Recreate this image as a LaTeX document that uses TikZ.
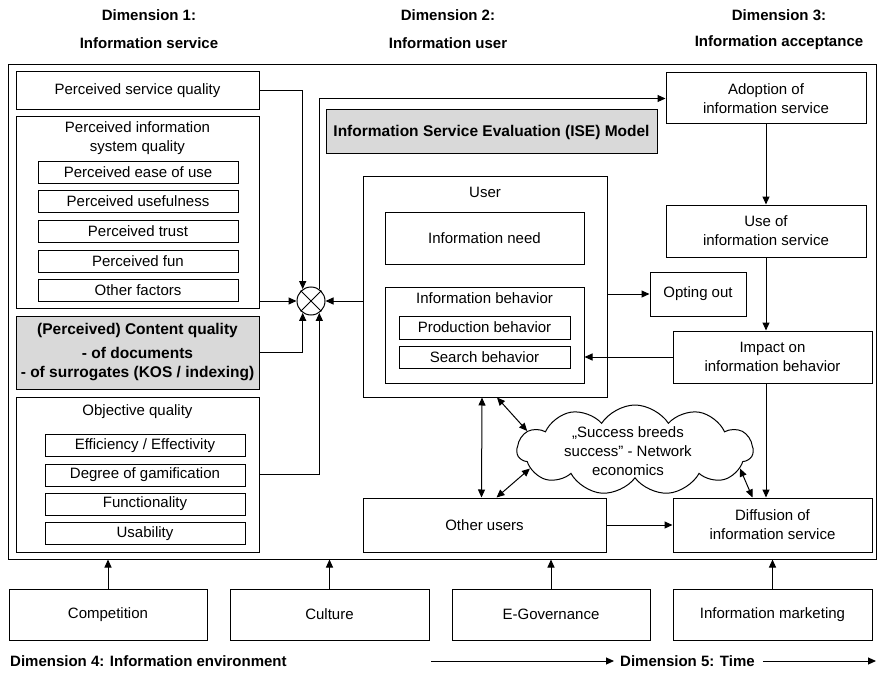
\documentclass[tikz,border=0pt]{standalone}
\usepackage{fontspec}
\setmainfont{Liberation Sans}
\usetikzlibrary{arrows.meta, shapes.symbols}

\tikzset{
  box/.style={draw, line width=1pt, fill=white, align=center, inner sep=2pt, font=\fontsize{15}{19}\selectfont},
  gbox/.style={box, fill=black!15, font=\bfseries\fontsize{15.5}{19}\selectfont},
  lbl/.style={inner sep=0pt, align=center, font=\fontsize{15}{19}\selectfont},
  hdr/.style={inner sep=0pt, font=\bfseries\fontsize{15}{18}\selectfont},
  arr/.style={line width=1pt, -{Triangle[length=8pt,width=7pt]}},
  dbl/.style={line width=1pt, {Triangle[length=8pt,width=7pt]}-{Triangle[length=8pt,width=7pt]}},
}

\begin{document}
\begin{tikzpicture}[x=1pt, y=-1pt]
\useasboundingbox (0,0) rectangle (878,674);

% Headers
\node[hdr] (d1a) at (149,15) {Dimension 1:};
\node[hdr] (d1b) at (149,43) {Information service};
\node[hdr] (d2a) at (448,15) {Dimension 2:};
\node[hdr] (d2b) at (448,43) {Information user};
\node[hdr] (d3a) at (779,15) {Dimension 3:};
\node[hdr] (d3b) at (779,43) {Information acceptance};

% Outer frame
\node[draw, line width=1pt, minimum width=868, minimum height=494, inner sep=0pt] (frame) at (442,312) {};

% Dimension 1
\node[box, minimum width=243, minimum height=38] (servq) at (137.5,91) {Perceived service quality};
\node[box, minimum width=243, minimum height=191] (isq) at (137.5,212.5) {};
\node[lbl] (isqt) at (137.5,138) {Perceived information\\system quality};
\node[box, minimum width=200, minimum height=22] (ease) at (138,172.5) {Perceived ease of use};
\node[box, minimum width=200, minimum height=22] (usef) at (138,201.5) {Perceived usefulness};
\node[box, minimum width=200, minimum height=22] (trust) at (138,231.5) {Perceived trust};
\node[box, minimum width=200, minimum height=22] (fun) at (138,261) {Perceived fun};
\node[box, minimum width=200, minimum height=22] (other) at (138,290) {Other factors};
\node[gbox, minimum width=243, minimum height=73] (content) at (137.5,352.5) {(Perceived) Content quality\\[5pt]- of documents\\- of surrogates (KOS / indexing)};
\node[box, minimum width=243, minimum height=155] (objq) at (137.5,474.5) {};
\node[lbl] (objqt) at (137.5,412) {Objective quality};
\node[box, minimum width=200, minimum height=22] (effi) at (145,445.5) {Efficiency / Effectivity};
\node[box, minimum width=200, minimum height=22] (gami) at (145,475) {Degree of gamification};
\node[box, minimum width=200, minimum height=22] (func) at (145,504) {Functionality};
\node[box, minimum width=200, minimum height=22] (usab) at (145,533.5) {Usability};

% Sum
\node[circle, draw, line width=1pt, minimum size=28, inner sep=0pt] (sum) at (311,301) {};
\draw[line width=1pt] (sum.45) -- (sum.225) (sum.135) -- (sum.315);

% Dimension 2
\node[gbox, minimum width=331, minimum height=44] (ise) at (491.5,132) {Information Service Evaluation (ISE) Model};
\node[box, minimum width=244, minimum height=221] (user) at (485,286.5) {};
\node[lbl] (usert) at (485,192) {User};
\node[box, minimum width=199, minimum height=52] (need) at (484.5,238) {Information need};
\node[box, minimum width=199, minimum height=96] (behav) at (484.5,335) {};
\node[lbl] (behavt) at (484.5,298) {Information behavior};
\node[box, minimum width=171, minimum height=23] (prod) at (484.5,327.5) {Production behavior};
\node[box, minimum width=171, minimum height=22] (search) at (484.5,357) {Search behavior};
\node[box, minimum width=243, minimum height=54] (others) at (484.5,525) {Other users};
\node[cloud, draw, line width=1pt, cloud puffs=11, cloud puff arc=115, aspect=2.6, minimum width=236, minimum height=90, inner sep=0pt] (cloud) at (635,450) {};
\node[lbl] (cloudt) at (628,451) {„Success breeds\\success" - Network\\economics};

% Dimension 3
\node[box, minimum width=200, minimum height=51] (adopt) at (766,98.5) {Adoption of\\information service};
\node[box, minimum width=200, minimum height=52] (use) at (766,231) {Use of\\information service};
\node[box, minimum width=96, minimum height=44] (opt) at (698,294) {Opting out};
\node[box, minimum width=199, minimum height=52] (impact) at (772.5,357) {Impact on\\information behavior};
\node[box, minimum width=199, minimum height=54] (diff) at (772.5,525) {Diffusion of\\information service};

% Dimension 4
\node[box, minimum width=198, minimum height=51] (comp) at (108,614.5) {Competition};
\node[box, minimum width=199, minimum height=51] (cult) at (329.5,614.5) {Culture};
\node[box, minimum width=198, minimum height=51] (egov) at (551,614.5) {E-Governance};
\node[box, minimum width=199, minimum height=51] (imkt) at (772.5,614.5) {Information marketing};

% Arrows
\draw[arr] (servq.east) -| (sum.125);
\draw[arr] (sum.55) |- (adopt.west);
\draw[arr] (isq.east |- sum.west) -- (sum.west);
\draw[arr] (content.east) -| (sum.235);
\draw[arr] (objq.east) -| (sum.305);
\draw[arr] (user.west |- sum.east) -- (sum.east);

\draw[arr] (adopt) -- (use);
\draw[arr] (use.south) -- (use.south |- impact.north);
\draw[arr] (use.south |- impact.south) -- (use.south |- diff.north);
\draw[arr] (impact.west) -- (impact.west -| behav.east);
\draw[arr] (user.east |- opt.west) -- (opt.west);
\draw[arr] (others) -- (diff);

\draw[dbl] ([xshift=-3]user.south) -- ([xshift=-3]others.north);
\draw[dbl] ([xshift=12]user.south) -- (cloud.170);
\draw[dbl] (cloud.190) -- ([xshift=12]others.north);
\draw[dbl] (cloud.-10) -- ([xshift=-20]diff.north);

\foreach \n in {comp, cult, egov, imkt}
  \draw[arr] (\n.north) -- (\n.north |- frame.south);

% Footer
\node[hdr, anchor=west] (dim4) at (10,661) {Dimension 4: Information environment};
\coordinate (t0) at (431,661);
\node[hdr, anchor=west] (dim5) at (620,661) {Dimension 5: Time};
\coordinate (t1) at (876,661);
\draw[arr] (t0) -- ([xshift=-6]dim5.west);
\draw[arr] ([xshift=8]dim5.east) -- (t1);
\end{tikzpicture}
\end{document}
